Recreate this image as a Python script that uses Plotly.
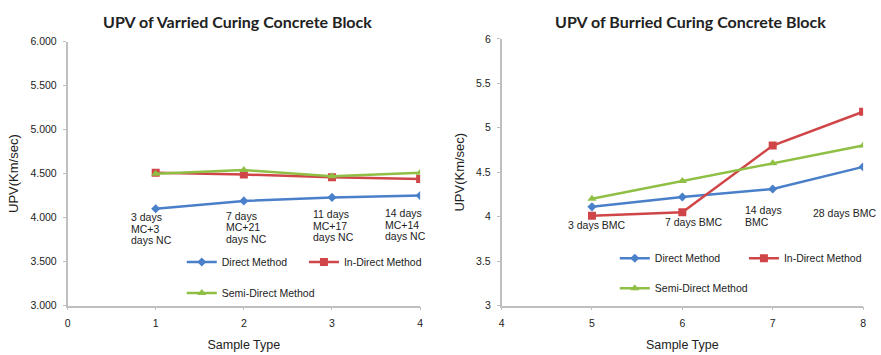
import plotly.graph_objects as go

# Left panel: varied curing
varied_x = [1, 2, 3, 4]
varied_labels = [["3 days", "MC+3", "days NC"], ["7 days", "MC+21", "days NC"],
                 ["11 days", "MC+17", "days NC"], ["14 days", "MC+14", "days NC"]]
varied_direct = [4.10, 4.19, 4.23, 4.25]
varied_indirect = [4.51, 4.49, 4.46, 4.44]
varied_semi = [4.50, 4.54, 4.47, 4.51]

# Right panel: buried curing
buried_x = [5, 6, 7, 8]
buried_labels = [["3 days BMC"], ["7 days BMC"], ["14 days", "BMC"], ["28 days BMC"]]
buried_direct = [4.11, 4.22, 4.31, 4.56]
buried_indirect = [4.01, 4.05, 4.80, 5.18]
buried_semi = [4.20, 4.40, 4.60, 4.80]

series_names = ["Direct Method", "In-Direct Method", "Semi-Direct Method"]
colors = ["#4a7fc9", "#d04648", "#8fbf45"]
symbols = ["diamond", "square", "triangle-up"]
msizes = [7, 8, 8]

W, H = 881, 355
FONT = "Liberation Sans, Arial, sans-serif"
TEXT = "#222222"


def px_x(p):
    return p / W


def px_y(p):
    return 1 - p / H


fig = go.Figure()

left_sets = [varied_direct, varied_indirect, varied_semi]
right_sets = [buried_direct, buried_indirect, buried_semi]
left_legends = ["legend2", "legend3", "legend4"]
right_legends = ["legend5", "legend6", "legend7"]

for i in range(3):
    fig.add_trace(go.Scatter(
        x=varied_x, y=left_sets[i], name=series_names[i], mode="lines+markers",
        line=dict(color=colors[i], width=2.5),
        marker=dict(symbol=symbols[i], size=msizes[i], color=colors[i]),
        xaxis="x", yaxis="y", legend=left_legends[i]))
for i in range(3):
    fig.add_trace(go.Scatter(
        x=buried_x, y=right_sets[i], name=series_names[i], mode="lines+markers",
        line=dict(color=colors[i], width=2.5),
        marker=dict(symbol=symbols[i], size=msizes[i], color=colors[i]),
        xaxis="x2", yaxis="y2", legend=right_legends[i]))

axis_common = dict(
    showline=True, linecolor="#bfbfbf", linewidth=1.5,
    ticks="outside", tickcolor="#bfbfbf", ticklen=3, tickwidth=1,
    ticklabelstandoff=4,
    showgrid=False, zeroline=False,
    tickfont=dict(family=FONT, size=10.5, color=TEXT),
)
xtitle_font = dict(family=FONT, size=12.5, color=TEXT)
ytitle_font = dict(family=FONT, size=13, color=TEXT)

fig.update_layout(
    width=W, height=H,
    margin=dict(l=0, r=0, t=0, b=0),
    paper_bgcolor="white", plot_bgcolor="white",
    font=dict(family=FONT, color=TEXT),
    xaxis=dict(axis_common, domain=[px_x(65), px_x(420)], range=[0, 4],
               tickvals=[0, 1, 2, 3, 4], anchor="y",
               title=dict(text="Sample Type", standoff=12, font=xtitle_font)),
    yaxis=dict(axis_common, domain=[px_y(310), px_y(37)], range=[3, 6],
               tickvals=[3, 3.5, 4, 4.5, 5, 5.5, 6], tickformat=".3f", anchor="x",
               title=dict(text="UPV(Km/sec)", standoff=9, font=ytitle_font)),
    xaxis2=dict(axis_common, domain=[px_x(502), px_x(866)], range=[4, 8],
                tickvals=[4, 5, 6, 7, 8], anchor="y2",
                title=dict(text="Sample Type", standoff=12, font=xtitle_font)),
    yaxis2=dict(axis_common, domain=[px_y(310), px_y(34)], range=[3, 6],
                tickvals=[3, 3.5, 4, 4.5, 5, 5.5, 6], anchor="x2",
                title=dict(text="UPV(Km/sec)", standoff=9, font=ytitle_font)),
)

legend_font = dict(family=FONT, size=10.5, color=TEXT)
legend_pos = {
    "legend2": (180, 265), "legend3": (303, 265), "legend4": (180, 297),
    "legend5": (616, 261), "legend6": (746, 261), "legend7": (616, 292),
}
for key, (lx, ly) in legend_pos.items():
    fig.update_layout({key: dict(x=px_x(lx), y=px_y(ly), xanchor="left", yanchor="middle",
                                 bgcolor="rgba(0,0,0,0)", font=legend_font,
                                 itemwidth=30, tracegroupgap=0)})

# Chart titles
title_font = dict(family="Lato, Open Sans, sans-serif", size=16, color=TEXT)
fig.add_annotation(text="<b>UPV of Varried Curing Concrete Block</b>", xref="paper", yref="paper",
                   x=px_x(236), y=px_y(16), xanchor="center", yanchor="middle",
                   showarrow=False, font=title_font)
fig.add_annotation(text="<b>UPV of Burried Curing Concrete Block</b>", xref="paper", yref="paper",
                   x=px_x(692), y=px_y(16), xanchor="center", yanchor="middle",
                   showarrow=False, font=title_font)

# Category labels under the points, one annotation per text line
label_font = dict(family=FONT, size=10.5, color=TEXT)
LINE_STEP = 11.5
left_shift = [-27, -20, -21, -37]
left_y = [4.003, 4.02, 4.04, 4.05]
for xv, lines, xs, yv in zip(varied_x, varied_labels, left_shift, left_y):
    for k, line in enumerate(lines):
        fig.add_annotation(text=line, x=xv, y=yv, xref="x", yref="y", showarrow=False,
                           xanchor="left", yanchor="middle", xshift=xs, yshift=-k * LINE_STEP,
                           font=label_font)
right_shift = [-26, -19, -30, -52]
right_y = [3.903, 3.936, 4.075, 4.045]
for xv, lines, xs, yv in zip(buried_x, buried_labels, right_shift, right_y):
    for k, line in enumerate(lines):
        fig.add_annotation(text=line, x=xv, y=yv, xref="x2", yref="y2", showarrow=False,
                           xanchor="left", yanchor="middle", xshift=xs, yshift=-k * 12.3,
                           font=label_font)

fig.write_html("out.html")
